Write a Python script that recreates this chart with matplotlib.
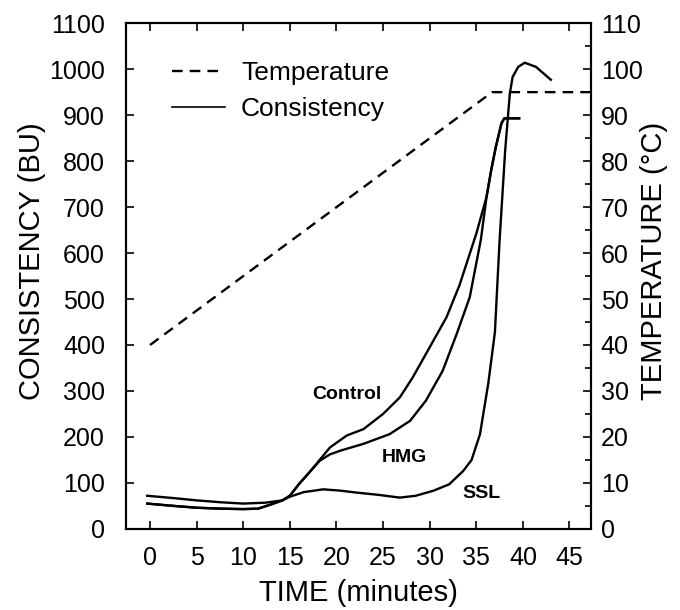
import matplotlib
matplotlib.use("Agg")
import matplotlib.pyplot as plt
from matplotlib.lines import Line2D
from matplotlib.ticker import MultipleLocator

plt.rcParams['font.family'] = ['Liberation Sans', 'DejaVu Sans']

# Temperature program (heating 1.5 C/min, then hold)
temp_time = [0, 36.7, 47.3]
temp_c = [40, 95, 95]

# Consistency curves
control_time = [-0.3, 2.5, 5, 7.5, 10, 11.6, 13.1, 14.2, 15, 16, 17.1, 18.2, 19.3,
                20.4, 21.1, 22.9, 25, 26.8, 28.2, 30, 31.8, 33.2, 35, 36.1, 36.6,
                37.1, 37.7, 38, 39.6]
control_bu = [55, 50, 46, 44, 43, 44, 54, 62, 72, 98, 123, 150, 177,
              193, 203, 217, 250, 286, 330, 395, 460, 530, 642, 722, 780,
              831, 882, 893, 893]

hmg_time = [-0.3, 2.5, 5, 7.5, 10, 11.6, 13.1, 14.2, 15, 16, 17.1, 18.2, 19.3,
            20.4, 22.9, 25.7, 27.9, 29.6, 31.4, 32.9, 34.3, 35.5, 36.1, 36.6,
            37.1, 37.7, 38, 39.6]
hmg_bu = [55, 50, 46, 44, 43, 44, 54, 62, 72, 98, 123, 148, 162,
          170, 185, 206, 235, 279, 344, 424, 504, 630, 722, 780,
          831, 882, 893, 893]

ssl_time = [-0.3, 2.5, 5, 7.5, 10, 12.4, 14.2, 15, 16.5, 18.6, 20.5, 22.1, 24.5,
            26.8, 28.5, 30.4, 32.1, 33.6, 34.5, 35.4, 36.3, 37, 37.5, 38.1, 38.6,
            38.9, 39.5, 40.2, 41.4, 43]
ssl_bu = [72, 67, 62, 58, 55, 57, 62, 70, 80, 86, 83, 79, 74,
          68, 72, 83, 97, 126, 150, 206, 318, 428, 627, 823, 947,
          983, 1005, 1014, 1005, 977]

curve_labels = ['Control', 'HMG', 'SSL']
label_pos = [(21.1, 292), (27.3, 155), (35.6, 78)]

fig = plt.figure(figsize=(6.8, 6.1), dpi=100)
ax = fig.add_axes([0.185, 0.133, 0.684, 0.829])
ax2 = ax.twinx()

lw = 1.7
dash = (4.5, 3)
ax.plot(control_time, control_bu, color='black', lw=lw, solid_joinstyle='round')
ax.plot(hmg_time, hmg_bu, color='black', lw=lw, solid_joinstyle='round')
ax.plot(ssl_time, ssl_bu, color='black', lw=lw, solid_joinstyle='round')
ax2.plot(temp_time, temp_c, color='black', lw=lw, dashes=dash)

for name, (x, y) in zip(curve_labels, label_pos):
    ax.text(x, y, name, fontsize=14, fontweight='bold', ha='center', va='center')

ax.set_xlim(-2.6, 47.3)
ax.set_ylim(0, 1100)
ax2.set_ylim(0, 110)

ax.xaxis.set_major_locator(MultipleLocator(5))
ax.yaxis.set_major_locator(MultipleLocator(100))
ax2.yaxis.set_major_locator(MultipleLocator(10))
ax2.yaxis.set_minor_locator(MultipleLocator(5))

ax.tick_params(axis='x', which='major', direction='in', length=6, width=1.2,
               labelsize=18, top=True, pad=12)
ax.tick_params(axis='y', which='major', direction='in', length=6, width=1.2,
               labelsize=18, pad=15)
ax2.tick_params(axis='y', which='major', direction='in', length=6, width=1.2,
                labelsize=18, pad=7)
ax2.tick_params(axis='y', which='minor', direction='in', length=4, width=1.2)

for a in (ax, ax2):
    for sp in a.spines.values():
        sp.set_linewidth(1.5)

ax.set_xlabel('TIME (minutes)', fontsize=21)
ax.set_ylabel('CONSISTENCY (BU)', fontsize=21)
ax2.set_ylabel('TEMPERATURE (°C)', fontsize=21)
ax.xaxis.set_label_coords(0.5, -0.1)
ax.yaxis.set_label_coords(-0.172, 0.53)
ax2.yaxis.set_label_coords(1.105, 0.53)

handles = [Line2D([], [], color='black', lw=lw, dashes=dash),
           Line2D([], [], color='black', lw=1.2)]
ax.legend(handles, ['Temperature', 'Consistency'], loc='upper left',
          bbox_to_anchor=(0.1, 0.925), frameon=False, fontsize=19,
          handlelength=2.0, handletextpad=0.6, labelspacing=0.45,
          borderaxespad=0, borderpad=0)

fig.savefig('out.png', dpi=100)
